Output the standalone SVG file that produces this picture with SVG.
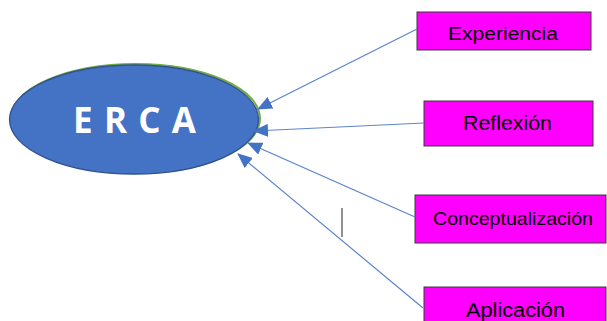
<svg xmlns="http://www.w3.org/2000/svg" width="607" height="321" viewBox="0 0 607 321">
  <style>
    .box { fill: #FF00FF; stroke: #3a3a3a; stroke-width: 1; }
    .lbl { font-family: "Liberation Sans", Arial, sans-serif; fill: #000; }
    .conn { stroke: #5B84CF; stroke-width: 1.2; fill: none; marker-end: url(#arr); }
  </style>
  <defs>
    <marker id="arr" markerUnits="userSpaceOnUse" markerWidth="15" markerHeight="13" refX="14" refY="6.5" orient="auto">
      <path d="M0,0 L15,6.5 L0,13 z" fill="#4472C4"/>
    </marker>
  </defs>
  <rect width="607" height="321" fill="#fff"/>

  <g id="erca">
    <ellipse cx="135.5" cy="118.5" rx="124.5" ry="54.5" fill="none" stroke="#70AD47" stroke-width="2"/>
    <ellipse cx="134" cy="119.5" rx="124.5" ry="54.5" fill="#4472C4" stroke="#2F528F" stroke-width="1.3"/>
    <text x="73" y="133" font-family="'Open Sans', 'Liberation Sans', sans-serif" font-weight="bold" font-size="35" fill="#fff" textLength="123" lengthAdjust="spacing">E R C A</text>
  </g>

  <g id="experiencia">
    <rect class="box" x="417" y="12" width="174" height="38"/>
    <text class="lbl" x="448" y="40" font-size="18" textLength="110" lengthAdjust="spacingAndGlyphs">Experiencia</text>
  </g>

  <g id="reflexion">
    <rect class="box" x="424" y="101" width="169" height="45"/>
    <text class="lbl" x="463" y="130" font-size="20" textLength="89" lengthAdjust="spacingAndGlyphs">Reflexión</text>
  </g>

  <g id="conceptualizacion">
    <rect class="box" x="415" y="195" width="191" height="48"/>
    <text class="lbl" x="433" y="225" font-size="19" textLength="160" lengthAdjust="spacingAndGlyphs">Conceptualización</text>
  </g>

  <g id="aplicacion">
    <rect class="box" x="424" y="287" width="182" height="40"/>
    <text class="lbl" x="466" y="317" font-size="20" textLength="99" lengthAdjust="spacingAndGlyphs">Aplicación</text>
  </g>

  <g id="connectors">
    <line class="conn" x1="417" y1="29" x2="258" y2="109"/>
    <line class="conn" x1="424" y1="123" x2="254" y2="131"/>
    <line class="conn" x1="415" y1="217" x2="248" y2="143"/>
    <line class="conn" x1="423" y1="308" x2="238" y2="154"/>
  </g>

  <line x1="342" y1="208" x2="342" y2="237" stroke="#222" stroke-width="1"/>
</svg>
